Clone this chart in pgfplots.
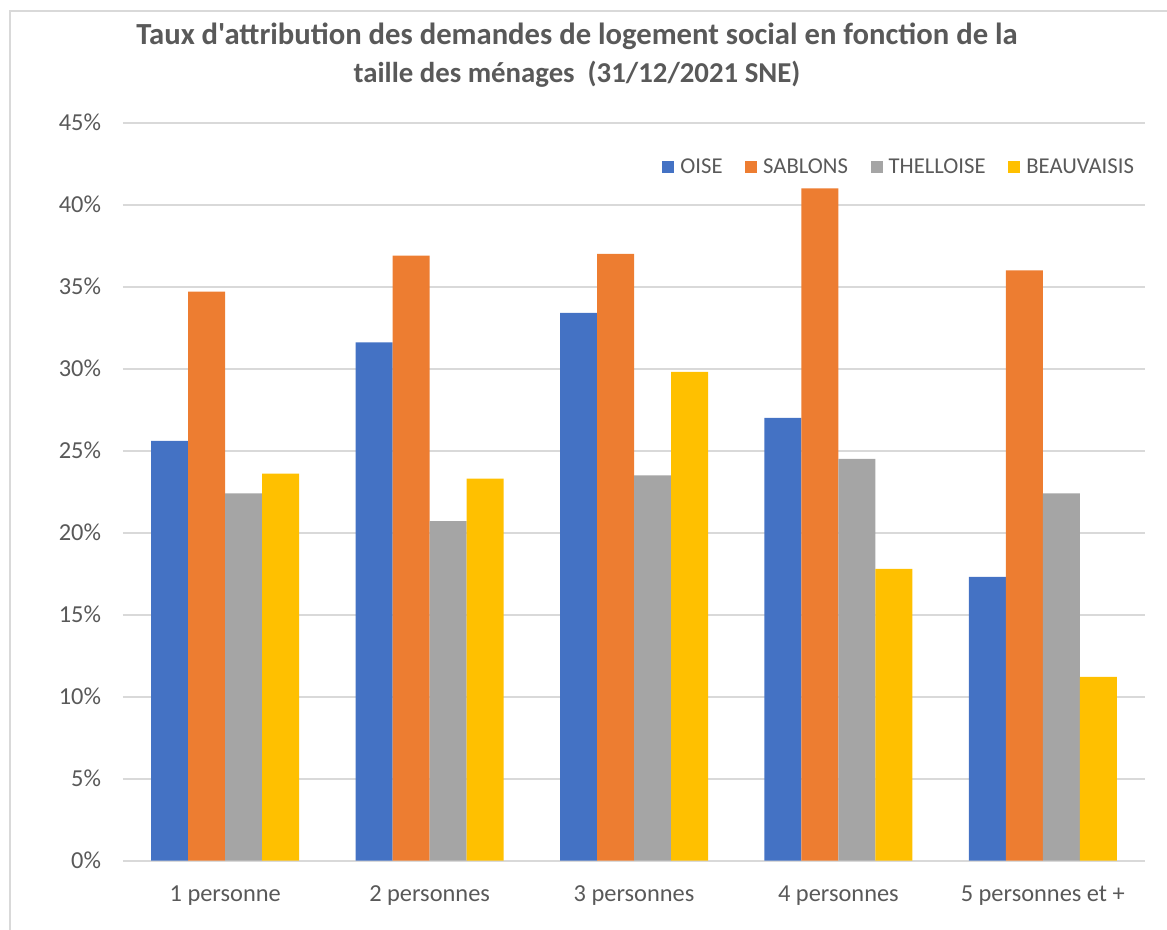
\documentclass[border=0pt]{standalone}
\usepackage{fontspec}
\setmainfont{Carlito}[Ligatures=TeXOff]
\usepackage{pgfplots}
\pgfplotsset{compat=1.18}
\definecolor{cOise}{HTML}{4472C4}
\definecolor{cSab}{HTML}{ED7D31}
\definecolor{cThel}{HTML}{A5A5A5}
\definecolor{cBeau}{HTML}{FFC000}
\definecolor{txt}{HTML}{595959}
\definecolor{grd}{HTML}{D9D9D9}
\begin{document}
\begin{tikzpicture}
\path[use as bounding box] (0,0) rectangle (875.25pt,-697.5pt);
\draw[grd, line width=1.5pt] (7.8pt,-697.5pt) -- (7.8pt,-8.25pt) -- (875.25pt,-8.25pt);
\node[text=txt, font=\bfseries\fontsize{23}{28.5}\selectfont, align=center] at (432.75pt,-41.5pt)
  {Taux d'attribution des demandes de logement social en fonction de la\\{\fontsize{21.6}{28.5}\selectfont taille des ménages~ (31/12/2021 SNE)}};
\begin{axis}[
  at={(92.25pt,-645.5pt)}, anchor=south west,
  scale only axis, width=766.5pt, height=553.5pt,
  ybar=0pt, bar width=27.75pt,
  xmin=-0.5, xmax=4.5, ymin=0, ymax=45,
  xtick=data,
  xticklabels={1 personne, 2 personnes, 3 personnes, 4 personnes, 5 personnes et +},
  ytick={0,5,...,45},
  yticklabel={\pgfmathprintnumber{\tick}\%},
  /pgf/number format/assume math mode=true,
  ymajorgrids, grid style={grd, line width=1.5pt},
  axis line style={draw=none},
  major tick length=0pt,
  tick label style={text=txt, font=\fontsize{18.3}{21}\selectfont},
  yticklabel style={xshift=-13pt},
  xticklabel style={yshift=-15pt},
  legend style={at={(0.996,0.94)}, anchor=east, draw=none, fill=none,
    font=\fontsize{17}{20}\selectfont, text=txt, legend columns=4,
    /tikz/every even column/.append style={column sep=15pt},
    /tikz/every odd column/.append style={column sep=2.5pt}},
  legend image code/.code={\fill[#1] (0pt,-4.5pt) rectangle (9pt,4.5pt);},
  clip=false,
]
\addplot[fill=cOise, draw=none] coordinates {(0,25.6) (1,31.6) (2,33.4) (3,27.0) (4,17.3)};
\addplot[fill=cSab, draw=none] coordinates {(0,34.7) (1,36.9) (2,37.0) (3,41.0) (4,36.0)};
\addplot[fill=cThel, draw=none] coordinates {(0,22.4) (1,20.7) (2,23.5) (3,24.5) (4,22.4)};
\addplot[fill=cBeau, draw=none] coordinates {(0,23.6) (1,23.3) (2,29.8) (3,17.8) (4,11.2)};
\legend{OISE, SABLONS, THELLOISE, BEAUVAISIS}
\end{axis}
\end{tikzpicture}
\end{document}
